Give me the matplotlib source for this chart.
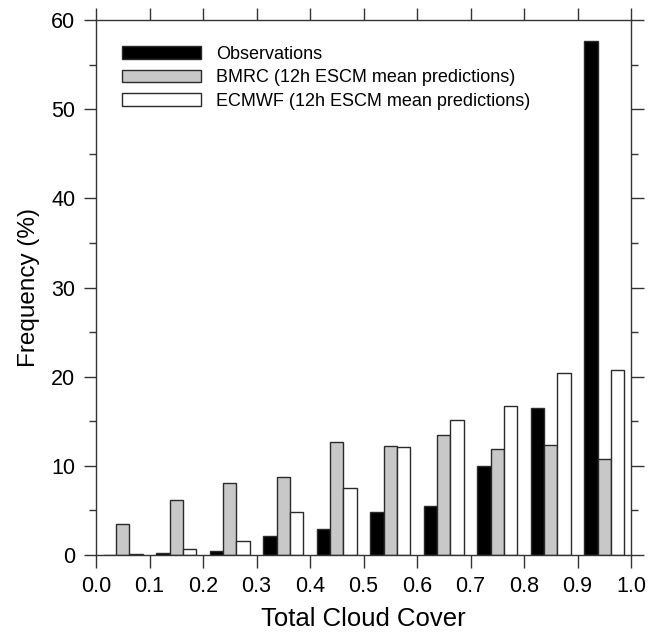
import numpy as np
from matplotlib import pyplot as plt
from matplotlib.ticker import MultipleLocator

plt.rcParams["font.family"] = ["Liberation Sans", "DejaVu Sans"]

# Data (frequency in %, per 0.1 cloud-cover bin)
bin_left = [0.0, 0.1, 0.2, 0.3, 0.4, 0.5, 0.6, 0.7, 0.8, 0.9]
obs = [0.0, 0.2, 0.4, 2.1, 2.95, 4.85, 5.45, 10.0, 16.5, 57.6]
bmrc = [3.47, 6.16, 8.06, 8.7, 12.69, 12.28, 13.44, 11.87, 12.32, 10.75]
ecmwf = [0.15, 0.63, 1.6, 4.78, 7.46, 12.13, 15.15, 16.76, 20.42, 20.75]
labels = [
    "Observations",
    "BMRC (12h ESCM mean predictions)",
    "ECMWF (12h ESCM mean predictions)",
]

fig = plt.figure(figsize=(6.61, 6.33), dpi=100)
ax = fig.add_axes([96 / 661, 1 - 555 / 633, 535 / 661, 535 / 633])

x = np.array(bin_left)
w = 0.025
edge = "#2a2a2a"
ax.bar(x + 0.025, obs, w, color="black", edgecolor=edge, lw=1.0, label=labels[0])
ax.bar(x + 0.05, bmrc, w, color="#c8c8c8", edgecolor=edge, lw=1.0, label=labels[1])
ax.bar(x + 0.075, ecmwf, w, color="white", edgecolor=edge, lw=1.0, label=labels[2])

ax.set_xlim(0, 1)
ax.set_ylim(0, 60)
ax.xaxis.set_major_locator(MultipleLocator(0.1))
ax.yaxis.set_major_locator(MultipleLocator(10))
ax.yaxis.set_minor_locator(MultipleLocator(5))
ax.xaxis.set_major_formatter(plt.FuncFormatter(lambda v, p: f"{v:.1f}"))

ax.tick_params(which="both", direction="out", top=True, right=True,
               color="#333333", width=1.0, labelsize=15.5)
ax.tick_params(which="major", length=9, pad=6)
ax.tick_params(which="minor", length=5)
for s in ax.spines.values():
    s.set_linewidth(1.0)
    s.set_color("#333333")

ax.set_xlabel("Total Cloud Cover", fontsize=18.5, labelpad=7)
ax.set_ylabel("Frequency (%)", fontsize=17.5, labelpad=8)

# legend sits in the upper left, no frame
ax.legend(loc="upper left", bbox_to_anchor=(0.048, 0.952), frameon=False,
          fontsize=13, handlelength=4.4, handleheight=0.7,
          handletextpad=0.85, labelspacing=0.36, borderpad=0, borderaxespad=0)

plt.savefig("out.png", dpi=100)
